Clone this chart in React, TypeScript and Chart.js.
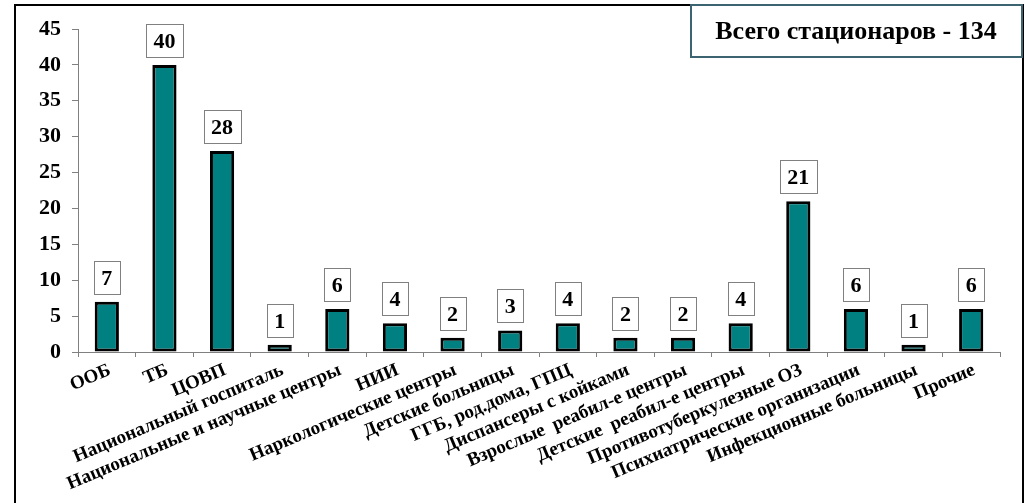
import React, { useEffect, useRef } from 'react';
import { Chart, registerables } from 'chart.js';

Chart.register(...registerables);

const categories = [
  'ООБ',
  'ТБ',
  'ЦОВП',
  'Национальный госпиталь',
  'Национальные и научные центры',
  'НИИ',
  'Наркологические центры',
  'Детские больницы',
  'ГГБ, род.дома, ГПЦ',
  'Диспансеры с койками',
  'Взрослые  реабил-е центры',
  'Детские  реабил-е центры',
  'Противотуберкулезные ОЗ',
  'Психиатрические организации',
  'Инфекционные больницы',
  'Прочие',
];

const values = [7, 40, 28, 1, 6, 4, 2, 3, 4, 2, 2, 4, 21, 6, 1, 6];

const yMin = 0;
const yMax = 45;
const yStep = 5;

const totalLabel = 'Всего стационаров - 134';

const FONT = '"Liberation Serif", "Times New Roman", serif';

export default function App() {
  const ref = useRef<HTMLCanvasElement | null>(null);

  useEffect(() => {
    if (!ref.current) return;

    const drawFrame = (ctx: CanvasRenderingContext2D) => {
      ctx.strokeStyle = '#000000';
      ctx.lineWidth = 2;
      ctx.strokeRect(15, 5, 1008, 600);
    };

    const frame = {
      id: 'frame',
      beforeDraw(chart: any) {
        const ctx = chart.ctx;
        ctx.save();
        ctx.fillStyle = '#ffffff';
        ctx.fillRect(0, 0, chart.width, chart.height);
        drawFrame(ctx);
        ctx.restore();
      },
      afterDraw(chart: any) {
        const ctx = chart.ctx;
        ctx.save();
        ctx.fillStyle = '#ffffff';
        ctx.fillRect(0, 0, 14, chart.height);
        drawFrame(ctx);
        ctx.fillStyle = '#ffffff';
        ctx.fillRect(691, 5, 331, 52);
        ctx.strokeStyle = '#3B6470';
        ctx.lineWidth = 2;
        ctx.strokeRect(691, 5, 331, 52);
        ctx.fillStyle = '#000000';
        ctx.font = `bold 26px ${FONT}`;
        ctx.textAlign = 'center';
        ctx.textBaseline = 'middle';
        ctx.fillText(totalLabel, 856, 32);
        ctx.restore();
      },
    };

    const valueBoxes = {
      id: 'valueBoxes',
      afterDatasetsDraw(chart: any) {
        const ctx = chart.ctx;
        const meta = chart.getDatasetMeta(0);
        ctx.save();
        ctx.font = `bold 22px ${FONT}`;
        ctx.textAlign = 'center';
        ctx.textBaseline = 'middle';
        meta.data.forEach((bar: any, i: number) => {
          const text = String(values[i]);
          const w = Math.round(ctx.measureText(text).width + 15);
          const h = 33;
          const bottom = bar.y - 8;
          const left = Math.round(bar.x - w / 2) + 0.5;
          const top = Math.round(bottom - h) + 0.5;
          ctx.fillStyle = '#ffffff';
          ctx.fillRect(left, top, w, h);
          ctx.strokeStyle = '#808080';
          ctx.lineWidth = 1;
          ctx.strokeRect(left, top, w, h);
          ctx.fillStyle = '#000000';
          ctx.fillText(text, bar.x, top + h / 2 + 1);
        });
        ctx.restore();
      },
    };

    const chart = new Chart(ref.current, {
      type: 'bar',
      data: {
        labels: categories,
        datasets: [
          {
            data: values,
            backgroundColor: '#008080',
            borderColor: '#000000',
            borderWidth: 3,
            borderSkipped: false,
            barPercentage: 0.42,
            categoryPercentage: 1,
          },
        ],
      },
      options: {
        responsive: false,
        animation: false,
        layout: { padding: { top: 29, right: 29, left: 0, bottom: 0 } },
        plugins: {
          legend: { display: false },
          tooltip: { enabled: false },
          title: { display: false },
        },
        scales: {
          x: {
            offset: true,
            grid: {
              display: true,
              drawOnChartArea: false,
              drawTicks: true,
              tickLength: 5,
              color: '#808080',
              offset: true,
            },
            border: { display: true, color: '#808080', width: 1 },
            ticks: {
              autoSkip: false,
              minRotation: 23,
              maxRotation: 23,
              labelOffset: 3,
              color: '#000000',
              padding: 2,
              font: { family: FONT, size: 19, weight: 'bold' },
            },
            afterFit: (s: any) => {
              s.height = 151;
            },
          },
          y: {
            min: yMin,
            max: yMax,
            ticks: {
              stepSize: yStep,
              color: '#000000',
              padding: 11,
              font: { family: FONT, size: 22, weight: 'bold' },
            },
            grid: {
              display: true,
              drawOnChartArea: false,
              tickLength: 6,
              color: '#808080',
            },
            border: { display: true, color: '#808080', width: 1 },
            afterFit: (s: any) => {
              s.width = 78;
            },
          },
        },
      },
      plugins: [frame, valueBoxes],
    } as any);

    return () => chart.destroy();
  }, []);

  return (
    <div
      style={{
        position: 'fixed',
        left: 0,
        top: 0,
        width: 1029,
        height: 503,
        background: '#ffffff',
      }}
    >
      <canvas ref={ref} width={1029} height={503} style={{ display: 'block' }} />
    </div>
  );
}
